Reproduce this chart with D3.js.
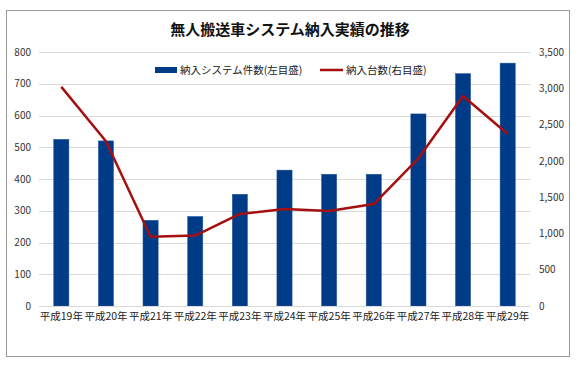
<!DOCTYPE html>
<html><head><meta charset="utf-8">
<script src="https://cdn.jsdelivr.net/npm/d3@7/dist/d3.min.js"></script>
<style>body{margin:0;background:#fff}svg{display:block}</style>
</head><body>
<script>
const categories = ["平成19年","平成20年","平成21年","平成22年","平成23年","平成24年","平成25年","平成26年","平成27年","平成28年","平成29年"];
const systemCounts = [525,520,270,282,352,428,415,415,605,732,765];
const unitCounts = [3020,2270,955,970,1268,1337,1310,1405,2035,2894,2370];
const leftTicks = [0,100,200,300,400,500,600,700,800];
const rightTicks = [0,500,1000,1500,2000,2500,3000,3500];
const title = "無人搬送車システム納入実績の推移";
const legendLabels = ["納入システム件数(左目盛)","納入台数(右目盛)"];

const W=580,H=367;
const font = "'Noto Sans CJK JP','Noto Sans',sans-serif";
const svg = d3.select("body").append("svg").attr("width",W).attr("height",H);
svg.append("rect").attr("x",6.5).attr("y",10.5).attr("width",563).attr("height",346)
  .attr("fill","#fff").attr("stroke","#999").attr("stroke-width",1);

const x0=39,x1=530,yTop=52,yBot=306;
const x = d3.scaleBand().domain(categories).range([x0,x1]).paddingInner(0.66).paddingOuter(0.33);
const yL = d3.scaleLinear().domain([0,800]).range([yBot,yTop]);
const yR = d3.scaleLinear().domain([0,3500]).range([yBot,yTop]);

// gridlines
svg.append("g").selectAll("line").data(leftTicks).join("line")
  .attr("x1",x0).attr("x2",x1).attr("y1",d=>Math.round(yL(d))+0.5).attr("y2",d=>Math.round(yL(d))+0.5)
  .attr("stroke","#d9d9d9").attr("stroke-width",1);

// left axis labels
const axL = d3.axisLeft(yL).tickValues(leftTicks).tickSize(0).tickPadding(0);
const gL = svg.append("g").attr("transform",`translate(31,0)`).call(axL);
gL.select(".domain").remove();
gL.selectAll("text").attr("font-family",font).attr("font-size",10).attr("fill","#333");

const axR = d3.axisRight(yR).tickValues(rightTicks).tickSize(0).tickPadding(0).tickFormat(d3.format(","));
const gR = svg.append("g").attr("transform",`translate(539,0)`).call(axR);
gR.select(".domain").remove();
gR.selectAll("text").attr("font-family",font).attr("font-size",10).attr("fill","#333");

// bars
svg.append("g").selectAll("rect").data(categories).join("rect")
  .attr("x",d=>x(d)).attr("width",x.bandwidth())
  .attr("y",(d,i)=>yL(systemCounts[i])).attr("height",(d,i)=>yBot-yL(systemCounts[i]))
  .attr("fill","#003b87").attr("stroke","#2a5aa0").attr("stroke-width",0.5);

// x axis
const axB = d3.axisBottom(x).tickSize(0).tickPadding(7);
const gB = svg.append("g").attr("transform",`translate(0,${yBot})`).call(axB);
gB.select(".domain").attr("stroke","#d9d9d9");
gB.selectAll("text").attr("font-family",font).attr("font-size",10.5).attr("fill","#222");

// line
const line = d3.line().x((d,i)=>x(categories[i])+x.bandwidth()/2).y(d=>yR(d));
svg.append("path").datum(unitCounts).attr("d",line).attr("fill","none")
  .attr("stroke","#a50f0f").attr("stroke-width",2.5).attr("stroke-linejoin","round");

// title
svg.append("text").attr("x",290).attr("y",35).attr("text-anchor","middle")
  .attr("font-family",font).attr("font-size",15).attr("font-weight","bold").attr("fill","#111").text(title);

// legend
const lg = svg.append("g");
lg.append("rect").attr("x",155).attr("y",67).attr("width",22).attr("height",6).attr("fill","#003b87");
lg.append("text").attr("x",180).attr("y",74).attr("font-family",font).attr("font-size",10.5).attr("fill","#222").text(legendLabels[0]);
lg.append("line").attr("x1",320).attr("x2",343).attr("y1",70).attr("y2",70).attr("stroke","#a50f0f").attr("stroke-width",2.5);
lg.append("text").attr("x",346).attr("y",74).attr("font-family",font).attr("font-size",10.5).attr("fill","#222").text(legendLabels[1]);
</script>
</body></html>
